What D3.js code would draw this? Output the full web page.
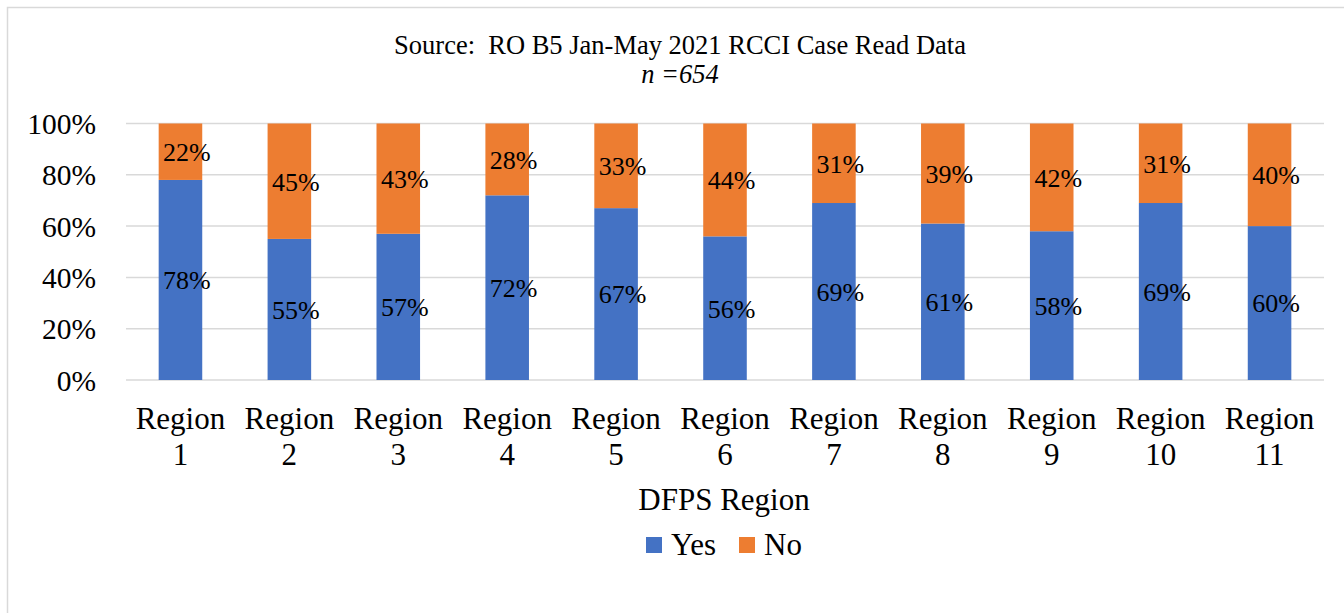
<!DOCTYPE html>
<html><head><meta charset="utf-8">
<script src="https://cdn.jsdelivr.net/npm/d3@7"></script>
<style>body{margin:0;background:#fff}svg{display:block}</style>
</head><body>
<svg id="c" width="1344" height="613"></svg>
<script>
const categories = ["Region 1","Region 2","Region 3","Region 4","Region 5","Region 6","Region 7","Region 8","Region 9","Region 10","Region 11"];
const yesValues = [78,55,57,72,67,56,69,61,58,69,60];
const noValues  = [22,45,43,28,33,44,31,39,42,31,40];
const yTicks = [0,20,40,60,80,100];
const seriesNames = ["Yes","No"];
const colors = ["#4472C4","#ED7D31"];
const FONT = "Liberation Serif, Tinos, Times New Roman, serif";

const svg = d3.select("#c").attr("font-family",FONT);
svg.append("rect").attr("x",7.5).attr("y",7.5).attr("width",1400).attr("height",700)
  .attr("fill","#fff").attr("stroke","#D9D9D9").attr("stroke-width",1.5);

const L=126, R=1324, T=123.5, B=380;
const x = d3.scaleBand().domain(categories).range([L,R]).paddingInner(0.6).paddingOuter(0.3);
const y = d3.scaleLinear().domain([0,100]).range([B,T]);

svg.append("g").selectAll("line").data(yTicks).join("line")
  .attr("x1",L).attr("x2",R).attr("y1",d=>y(d)).attr("y2",d=>y(d))
  .attr("stroke","#D9D9D9").attr("stroke-width",1.5);

const yAxis = d3.axisLeft(y).tickValues(yTicks).tickFormat(d=>d+"%").tickSize(0).tickPadding(0);
const ya = svg.append("g").attr("transform",`translate(${L-30},0)`).call(yAxis);
ya.attr("font-family",FONT);
ya.select(".domain").remove();
ya.selectAll("text").attr("font-size",29.5).attr("font-family",FONT).attr("fill","#000").attr("dy","0.34em");

const data = categories.map((c,i)=>({c, yes:yesValues[i], no:noValues[i]}));
const stack = d3.stack().keys(["yes","no"])(data);

const g = svg.append("g");
stack.forEach((s,si)=>{
  g.append("g").attr("fill",colors[si]).selectAll("rect").data(s).join("rect")
    .attr("x",d=>x(d.data.c)).attr("width",x.bandwidth())
    .attr("y",d=>y(d[1])).attr("height",d=>y(d[0])-y(d[1]));
  g.append("g").selectAll("text").data(s).join("text")
    .attr("font-family",FONT)
    .attr("x",d=>x(d.data.c)+x.bandwidth()/2+6.5)
    .attr("y",d=>(y(d[0])+y(d[1]))/2)
    .attr("dy","0.36em").attr("text-anchor","middle").attr("font-size",26)
    .text(d=>(d[1]-d[0])+"%");
});

const xl = svg.append("g").attr("font-family",FONT);
categories.forEach(c=>{
  const parts = c.split(" ");
  const t = xl.append("text").attr("text-anchor","middle").attr("font-size",31)
    .attr("x",x(c)+x.bandwidth()/2).attr("y",429);
  t.append("tspan").attr("x",x(c)+x.bandwidth()/2).text(parts[0]);
  t.append("tspan").attr("x",x(c)+x.bandwidth()/2).attr("dy",36).text(parts[1]);
});

svg.append("text").attr("x",680).attr("y",54).attr("text-anchor","middle").attr("font-size",26.5)
  .attr("xml:space","preserve").text("Source:  RO B5 Jan-May 2021 RCCI Case Read Data");
svg.append("text").attr("x",680).attr("y",83).attr("text-anchor","middle").attr("font-size",26.5)
  .attr("font-style","italic").text("n =654");

svg.append("text").attr("x",724).attr("y",510).attr("text-anchor","middle").attr("font-size",31).text("DFPS Region");

const leg = svg.append("g");
const legX = [646, 739];
seriesNames.forEach((n,i)=>{
  leg.append("rect").attr("x",legX[i]).attr("y",537).attr("width",16).attr("height",16).attr("fill",colors[i]);
  leg.append("text").attr("x",legX[i]+25).attr("y",555).attr("font-size",31).text(n);
});
</script>
</body></html>
